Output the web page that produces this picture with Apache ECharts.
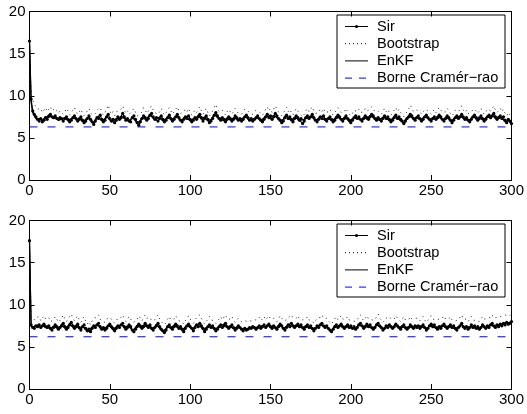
<!DOCTYPE html>
<html>
<head>
<meta charset="utf-8">
<script src="https://cdn.jsdelivr.net/npm/echarts@6/dist/echarts.min.js"></script>
<style>
  html, body { margin: 0; padding: 0; background: #fff; }
  #chart { width: 527px; height: 414px; }
</style>
</head>
<body>
<div id="chart"></div>
<script>
// Axis ticks
const xTicks = [0, 50, 100, 150, 200, 250, 300];
const yTicks = [0, 5, 10, 15, 20];
const seriesNames = ['Sir', 'Bootstrap', 'EnKF', 'Borne Cramér\u2212rao'];

// Upper panel: error per time step (index = time step 0..300)
const sirTop = [16.5,
  9.6, 8.2, 7.8, 7.5, 7.2, 7.0, 7.3, 6.9, 7.1, 7.4,
  7.2, 7.6, 7.8, 7.5, 7.4, 7.6, 7.3, 7.2, 7.4, 7.3,
  7.0, 7.3, 7.5, 7.2, 6.9, 7.1, 7.4, 7.6, 7.3, 7.0,
  7.2, 7.5, 7.1, 6.8, 7.0, 7.3, 7.6, 7.2, 6.9, 6.6,
  7.0, 7.4, 7.3, 7.7, 7.2, 6.9, 7.1, 7.5, 7.8, 7.3,
  7.0, 7.2, 6.8, 7.1, 7.5, 7.2, 7.4, 7.9, 7.5, 7.1,
  7.3, 7.0, 6.9, 7.4, 7.6, 7.2, 6.8, 6.5, 6.9, 7.3,
  7.6, 7.4, 7.1, 7.3, 7.7, 7.9, 7.5, 7.2, 7.4, 7.0,
  7.3, 7.6, 7.2, 6.9, 7.1, 7.4, 7.7, 7.3, 7.0, 7.2,
  7.5, 7.8, 7.4, 7.1, 6.9, 7.2, 7.5, 7.3, 7.6, 7.2,
  6.9, 7.1, 7.4, 7.2, 7.5, 7.8, 7.4, 7.0, 7.3, 7.6,
  7.2, 6.8, 7.0, 7.3, 7.7, 8.0, 7.6, 7.3, 7.1, 7.4,
  7.2, 6.9, 7.2, 7.5, 7.3, 7.0, 7.2, 7.6, 7.4, 7.1,
  7.3, 7.0, 7.2, 7.5, 7.7, 7.4, 7.1, 7.3, 7.0, 7.2,
  7.4, 7.6, 7.3, 7.1, 6.9, 7.2, 7.5, 7.8, 7.4, 7.6,
  7.2, 7.5, 7.9, 7.6, 7.3, 7.1, 6.8, 7.0, 7.4, 7.7,
  7.3, 7.5, 7.2, 6.9, 7.3, 7.6, 7.4, 7.1, 7.3, 6.7,
  7.0, 7.4, 7.6, 7.3, 7.5, 7.8, 7.4, 7.1, 6.9, 7.2,
  7.5, 7.3, 7.6, 7.2, 7.0, 7.3, 7.5, 7.2, 6.9, 7.1,
  7.4, 7.7, 7.5, 7.2, 7.0, 7.3, 7.6, 7.3, 7.1, 6.8,
  7.1, 7.4, 7.6, 7.3, 7.5, 7.2, 7.0, 7.3, 7.6, 7.4,
  7.2, 7.5, 7.8, 7.6, 7.3, 7.1, 7.4, 7.2, 7.0, 7.3,
  7.6, 7.3, 7.5, 7.2, 6.9, 7.1, 7.4, 7.7, 7.3, 7.5,
  7.2, 7.0, 6.7, 7.0, 7.3, 7.5, 7.8, 7.6, 7.3, 7.1,
  7.4, 7.6, 7.3, 7.0, 7.2, 7.5, 7.7, 7.4, 7.2, 7.0,
  7.3, 7.5, 7.2, 7.4, 7.7, 7.5, 7.2, 7.0, 7.3, 7.6,
  7.4, 7.1, 6.8, 7.1, 7.4, 7.6, 7.3, 7.5, 7.8, 7.5,
  7.2, 7.4, 7.1, 6.9, 7.2, 7.5, 7.7, 7.4, 7.1, 7.3,
  7.6, 7.3, 7.0, 7.2, 7.5, 7.7, 7.4, 7.6, 7.9, 7.5,
  7.2, 7.4, 7.6, 7.3, 7.5, 7.1, 6.8, 7.2, 7.0, 6.7];

const bootstrapTop = [16.5,
  10.4, 9.5, 9.0, 8.7, 8.4, 8.2, 8.5, 8.0, 8.3, 8.6,
  8.1, 8.4, 8.7, 8.2, 8.0, 8.5, 8.3, 7.9, 8.2, 8.4,
  7.8, 8.1, 8.5, 8.2, 7.7, 8.0, 8.3, 8.6, 8.1, 7.8,
  8.0, 8.4, 7.9, 7.6, 7.9, 8.2, 8.5, 8.0, 7.7, 7.5,
  7.9, 8.3, 8.1, 8.6, 8.0, 7.7, 8.0, 8.4, 8.9, 8.2,
  7.8, 8.1, 7.6, 8.0, 8.3, 8.1, 8.4, 8.8, 8.3, 7.9,
  8.2, 7.8, 7.7, 8.2, 8.5, 8.0, 7.6, 7.4, 7.8, 8.1,
  8.6, 8.3, 7.9, 8.2, 8.5, 8.8, 8.3, 8.0, 8.2, 7.8,
  8.1, 8.5, 8.0, 7.7, 7.9, 8.3, 8.6, 8.2, 7.8, 8.0,
  8.4, 8.7, 8.2, 7.9, 7.7, 8.1, 8.4, 8.1, 8.5, 8.0,
  7.7, 7.9, 8.3, 8.0, 8.4, 8.7, 8.2, 7.8, 8.1, 8.5,
  8.0, 7.6, 7.9, 8.2, 8.6, 9.0, 8.4, 8.1, 7.9, 8.3,
  8.0, 7.7, 8.1, 8.4, 8.2, 7.8, 8.0, 8.5, 8.3, 7.9,
  8.1, 7.8, 8.0, 8.4, 8.6, 8.2, 7.9, 8.1, 7.8, 8.0,
  8.3, 8.5, 8.1, 7.9, 7.7, 8.0, 8.4, 8.7, 8.2, 8.5,
  8.0, 8.4, 8.8, 8.4, 8.1, 7.9, 7.6, 7.8, 8.3, 8.6,
  8.1, 8.4, 8.0, 7.7, 8.1, 8.5, 8.2, 7.9, 8.1, 7.5,
  7.8, 8.2, 8.5, 8.1, 8.4, 8.7, 8.2, 7.9, 7.7, 8.0,
  8.4, 8.1, 8.5, 8.0, 7.8, 8.1, 8.4, 8.0, 7.7, 7.9,
  8.3, 8.6, 8.3, 8.0, 7.8, 8.1, 8.5, 8.1, 7.9, 7.6,
  7.9, 8.3, 8.5, 8.1, 8.4, 8.0, 7.8, 8.1, 8.5, 8.2,
  8.0, 8.4, 8.7, 8.5, 8.1, 7.9, 8.2, 8.0, 7.8, 8.1,
  8.5, 8.1, 8.4, 8.0, 7.7, 7.9, 8.3, 8.6, 8.1, 8.4,
  8.0, 7.8, 7.5, 7.8, 8.1, 8.4, 8.9, 8.5, 8.1, 7.9,
  8.3, 8.5, 8.1, 7.8, 8.0, 8.4, 8.6, 8.2, 8.0, 7.8,
  8.1, 8.4, 8.0, 8.3, 8.6, 8.4, 8.0, 7.8, 8.1, 8.5,
  8.2, 7.9, 7.6, 7.9, 8.3, 8.5, 8.1, 8.4, 8.8, 8.3,
  8.0, 8.3, 7.9, 7.7, 8.0, 8.4, 8.6, 8.2, 7.9, 8.1,
  8.5, 8.1, 7.8, 8.0, 8.4, 8.6, 8.2, 8.5, 8.8, 8.3,
  8.0, 8.2, 8.5, 8.1, 8.4, 7.9, 7.6, 8.0, 7.8, 7.5];

const enkfTop = [16.4,
  9.2, 8.0, 7.6, 7.3, 7.1, 7.2, 7.0, 7.1, 7.3, 7.5,
  7.3, 7.4, 7.7, 7.6, 7.3, 7.5, 7.4, 7.1, 7.3, 7.2,
  7.1, 7.4, 7.3, 7.0, 7.0, 7.3, 7.5, 7.4, 7.1, 7.1,
  7.4, 7.3, 6.9, 6.9, 7.2, 7.4, 7.5, 7.0, 6.8, 6.8,
  7.2, 7.3, 7.5, 7.5, 7.0, 7.0, 7.3, 7.6, 7.6, 7.1,
  7.1, 7.0, 6.9, 7.3, 7.4, 7.3, 7.6, 7.7, 7.3, 7.2,
  7.1, 6.9, 7.1, 7.5, 7.4, 7.0, 6.7, 6.7, 7.1, 7.4,
  7.5, 7.2, 7.2, 7.5, 7.8, 7.6, 7.3, 7.3, 7.2, 7.1,
  7.5, 7.4, 7.0, 7.0, 7.3, 7.5, 7.5, 7.1, 7.1, 7.4,
  7.6, 7.6, 7.2, 7.0, 7.0, 7.4, 7.3, 7.4, 7.5, 7.0,
  7.0, 7.3, 7.3, 7.3, 7.7, 7.6, 7.2, 7.1, 7.5, 7.4,
  7.0, 6.9, 7.2, 7.4, 7.8, 7.8, 7.4, 7.2, 7.2, 7.3,
  7.0, 7.0, 7.4, 7.4, 7.1, 7.1, 7.4, 7.5, 7.2, 7.2,
  7.1, 7.1, 7.4, 7.6, 7.5, 7.2, 7.2, 7.1, 7.1, 7.3,
  7.5, 7.4, 7.2, 7.0, 7.0, 7.4, 7.6, 7.6, 7.5, 7.4,
  7.3, 7.7, 7.7, 7.4, 7.2, 7.0, 6.9, 7.2, 7.6, 7.5,
  7.4, 7.3, 7.0, 7.1, 7.5, 7.5, 7.2, 7.2, 7.1, 6.9,
  7.2, 7.5, 7.4, 7.4, 7.6, 7.6, 7.2, 7.0, 7.1, 7.4,
  7.4, 7.4, 7.4, 7.1, 7.1, 7.4, 7.3, 7.0, 7.0, 7.3,
  7.6, 7.5, 7.3, 7.1, 7.2, 7.5, 7.4, 7.2, 6.9, 6.9,
  7.3, 7.5, 7.4, 7.4, 7.3, 7.1, 7.1, 7.5, 7.5, 7.2,
  7.3, 7.7, 7.6, 7.4, 7.2, 7.2, 7.3, 7.1, 7.1, 7.5,
  7.4, 7.4, 7.3, 7.0, 7.0, 7.3, 7.6, 7.5, 7.4, 7.3,
  7.0, 6.9, 6.8, 7.2, 7.4, 7.6, 7.6, 7.4, 7.2, 7.2,
  7.5, 7.4, 7.1, 7.1, 7.4, 7.6, 7.5, 7.3, 7.1, 7.1,
  7.4, 7.3, 7.3, 7.6, 7.6, 7.3, 7.1, 7.1, 7.5, 7.5,
  7.2, 7.0, 6.9, 7.3, 7.5, 7.4, 7.4, 7.6, 7.6, 7.3,
  7.3, 7.2, 7.0, 7.0, 7.4, 7.6, 7.5, 7.2, 7.2, 7.5,
  7.4, 7.1, 7.1, 7.4, 7.6, 7.5, 7.5, 7.7, 7.7, 7.3,
  7.3, 7.5, 7.4, 7.4, 7.3, 6.9, 6.9, 7.1, 6.9, 6.6];

const cramerRaoTop = 6.3;

// Lower panel
const sirBottom = [17.6,
  7.6, 7.3, 7.2, 7.5, 7.4, 7.6, 7.3, 7.5, 7.7, 7.4,
  7.3, 7.5, 7.2, 7.0, 7.3, 7.6, 7.4, 7.1, 7.3, 7.5,
  7.8, 7.4, 7.1, 7.3, 7.6, 7.9, 7.5, 7.2, 7.4, 7.7,
  7.3, 7.0, 7.4, 7.6, 7.2, 6.9, 7.1, 6.8, 7.2, 7.5,
  7.3, 7.6, 7.8, 7.4, 7.1, 7.3, 7.0, 7.2, 7.5, 7.7,
  7.4, 7.2, 6.9, 7.2, 7.5, 7.3, 7.6, 7.8, 7.4, 7.1,
  7.3, 7.6, 7.4, 7.0, 6.8, 7.1, 7.4, 7.7, 7.5, 7.2,
  7.4, 7.8, 7.5, 7.3, 7.6, 7.2, 7.0, 7.3, 7.5, 7.8,
  7.4, 7.1, 6.9, 6.7, 7.0, 7.4, 7.6, 7.3, 7.1, 7.4,
  7.7, 7.5, 7.2, 7.4, 7.1, 6.8, 7.2, 7.5, 7.7, 7.4,
  7.2, 6.9, 7.3, 7.6, 7.4, 7.8, 7.5, 7.2, 6.8, 7.1,
  7.4, 7.6, 7.3, 7.5, 7.2, 6.9, 7.1, 7.4, 7.6, 7.3,
  7.5, 7.8, 7.4, 7.2, 7.4, 7.6, 7.3, 7.0, 7.2, 7.5,
  7.3, 7.1, 6.9, 7.2, 7.0, 7.1, 7.3, 7.2, 7.4, 7.3,
  7.1, 7.3, 7.5, 7.2, 7.4, 7.6, 7.3, 7.5, 7.7, 7.4,
  7.2, 7.5, 7.3, 7.1, 7.4, 7.7, 7.5, 7.2, 7.0, 7.3,
  7.6, 7.4, 7.8, 7.5, 7.3, 7.5, 7.7, 7.4, 7.6, 7.3,
  7.1, 7.4, 7.6, 7.3, 7.5, 7.2, 6.9, 7.2, 7.5, 7.3,
  7.6, 7.8, 7.5, 7.3, 7.5, 7.2, 7.0, 6.8, 7.1, 7.4,
  7.6, 7.3, 7.5, 7.7, 7.4, 7.2, 7.4, 7.6, 7.3, 7.5,
  7.2, 7.4, 7.1, 7.3, 7.6, 7.8, 7.5, 7.2, 7.4, 7.7,
  7.4, 7.6, 7.3, 7.1, 7.3, 7.6, 7.8, 7.5, 7.3, 7.0,
  7.2, 7.5, 7.3, 7.6, 7.4, 7.2, 7.4, 7.7, 7.5, 7.3,
  7.1, 7.4, 7.6, 7.3, 7.1, 7.3, 7.6, 7.4, 7.2, 7.5,
  7.3, 7.5, 7.2, 7.4, 7.6, 7.3, 7.0, 7.2, 7.5, 7.7,
  7.4, 7.6, 7.3, 7.1, 7.4, 7.2, 7.5, 7.7, 7.4, 7.2,
  7.4, 7.6, 7.3, 7.5, 7.2, 7.0, 7.3, 7.5, 7.8, 7.4,
  7.2, 7.4, 7.1, 7.3, 7.6, 7.3, 7.5, 7.2, 7.4, 7.1,
  7.3, 7.6, 7.4, 7.2, 7.5, 7.3, 7.6, 7.8, 7.5, 7.3,
  7.6, 7.4, 7.7, 7.5, 7.8, 7.6, 7.9, 7.7, 7.8, 8.0];

const bootstrapBottom = [17.6,
  8.6, 8.4, 8.2, 8.5, 8.3, 8.6, 8.1, 8.4, 8.7, 8.3,
  8.2, 8.5, 8.0, 7.8, 8.2, 8.6, 8.3, 7.9, 8.1, 8.4,
  8.8, 8.3, 8.0, 8.2, 8.6, 8.9, 8.4, 8.1, 8.3, 8.7,
  8.2, 7.9, 8.3, 8.6, 8.0, 7.7, 8.0, 7.6, 8.1, 8.4,
  8.2, 8.5, 8.8, 8.3, 8.0, 8.2, 7.9, 8.1, 8.5, 8.7,
  8.3, 8.1, 7.8, 8.1, 8.4, 8.2, 8.5, 8.8, 8.3, 8.0,
  8.2, 8.6, 8.3, 7.9, 7.7, 8.0, 8.3, 8.7, 8.4, 8.1,
  8.3, 8.8, 8.4, 8.2, 8.5, 8.1, 7.9, 8.2, 8.4, 8.8,
  8.3, 8.0, 7.8, 7.6, 7.9, 8.3, 8.6, 8.2, 8.0, 8.3,
  8.7, 8.4, 8.1, 8.3, 8.0, 7.7, 8.1, 8.4, 8.7, 8.3,
  8.1, 7.8, 8.2, 8.5, 8.3, 8.8, 8.4, 8.1, 7.7, 8.0,
  8.3, 8.6, 8.2, 8.4, 8.1, 7.8, 8.0, 8.3, 8.6, 8.2,
  8.4, 8.8, 8.3, 8.1, 8.3, 8.6, 8.2, 7.9, 8.1, 8.4,
  8.2, 8.0, 7.8, 8.1, 7.9, 8.0, 8.2, 8.1, 8.3, 8.2,
  8.0, 8.2, 8.5, 8.1, 8.3, 8.6, 8.2, 8.4, 8.7, 8.3,
  8.1, 8.4, 8.2, 8.0, 8.3, 8.7, 8.4, 8.1, 7.9, 8.2,
  8.5, 8.3, 8.8, 8.4, 8.2, 8.4, 8.7, 8.3, 8.5, 8.2,
  8.0, 8.3, 8.6, 8.2, 8.4, 8.1, 7.8, 8.1, 8.4, 8.2,
  8.5, 8.8, 8.4, 8.2, 8.4, 8.1, 7.9, 7.7, 8.0, 8.3,
  8.6, 8.2, 8.4, 8.7, 8.3, 8.1, 8.3, 8.6, 8.2, 8.4,
  8.1, 8.3, 8.0, 8.2, 8.5, 8.8, 8.4, 8.1, 8.3, 8.7,
  8.3, 8.5, 8.2, 8.0, 8.2, 8.6, 8.9, 8.4, 8.2, 7.9,
  8.1, 8.4, 8.2, 8.6, 8.3, 8.1, 8.3, 8.7, 8.4, 8.2,
  8.0, 8.3, 8.6, 8.2, 8.0, 8.2, 8.6, 8.3, 8.1, 8.4,
  8.2, 8.4, 8.1, 8.3, 8.6, 8.2, 7.9, 8.1, 8.4, 8.7,
  8.3, 8.5, 8.2, 8.0, 8.3, 8.1, 8.4, 8.7, 8.3, 8.1,
  8.3, 8.6, 8.2, 8.4, 8.1, 7.9, 8.2, 8.4, 8.8, 8.3,
  8.1, 8.3, 8.0, 8.2, 8.6, 8.2, 8.4, 8.1, 8.3, 8.0,
  8.2, 8.6, 8.3, 8.1, 8.4, 8.2, 8.5, 8.8, 8.4, 8.2,
  8.5, 8.3, 8.6, 8.4, 8.7, 8.5, 8.8, 8.6, 8.7, 8.9];

const enkfBottom = [17.5,
  7.4, 7.2, 7.4, 7.4, 7.6, 7.5, 7.4, 7.6, 7.5, 7.3,
  7.4, 7.3, 7.1, 7.2, 7.5, 7.5, 7.2, 7.2, 7.4, 7.7,
  7.6, 7.2, 7.2, 7.5, 7.8, 7.7, 7.3, 7.3, 7.6, 7.5,
  7.1, 7.2, 7.5, 7.4, 7.0, 7.0, 6.9, 7.0, 7.4, 7.4,
  7.5, 7.7, 7.6, 7.2, 7.2, 7.1, 7.1, 7.4, 7.6, 7.5,
  7.3, 7.0, 7.0, 7.4, 7.4, 7.5, 7.7, 7.6, 7.2, 7.2,
  7.5, 7.5, 7.2, 6.9, 6.9, 7.3, 7.6, 7.6, 7.3, 7.3,
  7.6, 7.7, 7.4, 7.5, 7.4, 7.1, 7.1, 7.4, 7.7, 7.6,
  7.2, 7.0, 6.8, 6.8, 7.2, 7.5, 7.5, 7.2, 7.2, 7.6,
  7.6, 7.3, 7.3, 7.3, 6.9, 7.0, 7.4, 7.6, 7.6, 7.3,
  7.1, 7.1, 7.5, 7.5, 7.6, 7.7, 7.3, 7.0, 6.9, 7.3,
  7.5, 7.5, 7.4, 7.4, 7.0, 7.0, 7.3, 7.5, 7.5, 7.4,
  7.7, 7.6, 7.3, 7.3, 7.5, 7.5, 7.1, 7.1, 7.4, 7.4,
  7.2, 7.0, 7.0, 7.1, 7.1, 7.2, 7.2, 7.3, 7.4, 7.2,
  7.2, 7.4, 7.4, 7.3, 7.5, 7.5, 7.4, 7.6, 7.6, 7.3,
  7.3, 7.4, 7.2, 7.2, 7.6, 7.6, 7.4, 7.1, 7.1, 7.5,
  7.5, 7.6, 7.7, 7.4, 7.4, 7.6, 7.6, 7.5, 7.5, 7.2,
  7.2, 7.5, 7.5, 7.4, 7.4, 7.1, 7.0, 7.3, 7.4, 7.4,
  7.7, 7.7, 7.4, 7.4, 7.4, 7.1, 6.9, 6.9, 7.2, 7.5,
  7.5, 7.4, 7.6, 7.6, 7.3, 7.3, 7.5, 7.5, 7.4, 7.4,
  7.3, 7.3, 7.2, 7.4, 7.7, 7.7, 7.4, 7.3, 7.5, 7.6,
  7.5, 7.5, 7.2, 7.2, 7.4, 7.7, 7.7, 7.4, 7.2, 7.1,
  7.3, 7.4, 7.4, 7.5, 7.3, 7.3, 7.5, 7.6, 7.4, 7.2,
  7.2, 7.5, 7.5, 7.2, 7.2, 7.4, 7.5, 7.3, 7.3, 7.4,
  7.4, 7.4, 7.3, 7.5, 7.5, 7.2, 7.1, 7.3, 7.6, 7.6,
  7.5, 7.5, 7.2, 7.2, 7.3, 7.3, 7.6, 7.6, 7.3, 7.3,
  7.5, 7.5, 7.4, 7.4, 7.1, 7.1, 7.4, 7.6, 7.7, 7.3,
  7.3, 7.3, 7.2, 7.4, 7.5, 7.4, 7.4, 7.3, 7.3, 7.2,
  7.4, 7.5, 7.3, 7.3, 7.4, 7.4, 7.7, 7.7, 7.4, 7.4,
  7.5, 7.5, 7.6, 7.6, 7.7, 7.7, 7.8, 7.8, 7.9, 7.9];

const cramerRaoBottom = 6.2;

const FONT = '"Liberation Sans", Arial, Helvetica, sans-serif';
const chart = echarts.init(document.getElementById('chart'), null, { renderer: 'canvas' });

const PLOT_LEFT = 29.5, PLOT_WIDTH = 483;
const panels = [
  { top: 11.5, height: 168.5, sir: sirTop, boot: bootstrapTop, enkf: enkfTop, crb: cramerRaoTop },
  { top: 220.5, height: 168.5, sir: sirBottom, boot: bootstrapBottom, enkf: enkfBottom, crb: cramerRaoBottom }
];

const toPairs = arr => arr.map((v, i) => [i, v]);
const xMin = xTicks[0], xMax = xTicks[xTicks.length - 1];
const yMin = yTicks[0], yMax = yTicks[yTicks.length - 1];

const grid = [], xAxis = [], yAxis = [], series = [], graphic = [];

panels.forEach((p, k) => {
  grid.push({ left: PLOT_LEFT, width: PLOT_WIDTH, top: p.top, height: p.height, containLabel: false });
  const axisCommon = {
    gridIndex: k, type: 'value',
    axisLine: { show: true, onZero: false, lineStyle: { color: '#000', width: 1 } },
    axisTick: { show: true, inside: true, length: 5, lineStyle: { color: '#000', width: 1 } },
    splitLine: { show: false },
    axisLabel: { color: '#000', fontSize: 15, fontFamily: FONT, showMinLabel: true, showMaxLabel: true }
  };
  xAxis.push(Object.assign({}, axisCommon, {
    position: 'bottom', min: xMin, max: xMax, interval: 50,
    axisLabel: Object.assign({}, axisCommon.axisLabel, { margin: 3 })
  }));
  xAxis.push(Object.assign({}, axisCommon, {
    position: 'top', min: xMin, max: xMax, interval: 50, axisLabel: { show: false }
  }));
  yAxis.push(Object.assign({}, axisCommon, {
    position: 'left', min: yMin, max: yMax, interval: 5,
    axisLabel: Object.assign({}, axisCommon.axisLabel, { margin: 4 })
  }));
  yAxis.push(Object.assign({}, axisCommon, {
    position: 'right', min: yMin, max: yMax, interval: 5, axisLabel: { show: false }
  }));

  const base = { type: 'line', xAxisIndex: 2 * k, yAxisIndex: 2 * k, animation: false, silent: true,
                 emphasis: { disabled: true }, clip: true };
  series.push(Object.assign({}, base, {
    name: seriesNames[0], data: toPairs(p.sir),
    symbol: 'circle', symbolSize: 3.2, showSymbol: true, showAllSymbol: true,
    itemStyle: { color: '#000' }, lineStyle: { color: '#000', width: 1.2 }, z: 2
  }));
  series.push(Object.assign({}, base, {
    name: seriesNames[1], data: toPairs(p.boot), symbol: 'none',
    lineStyle: { color: '#222', width: 1, type: [1, 4] }, z: 3
  }));
  series.push(Object.assign({}, base, {
    name: seriesNames[2], data: toPairs(p.enkf), symbol: 'none',
    lineStyle: { color: '#000', width: 1.2 }, z: 4
  }));
  series.push(Object.assign({}, base, {
    name: seriesNames[3], data: [[xMin, p.crb], [xMax, p.crb]], symbol: 'none',
    lineStyle: { color: '#0000ff', width: 1, type: [8, 10] }, z: 5
  }));

  // Boxed legend in the upper-right corner of each panel
  const lx = 337, ly = p.top + 3.5, lw = 168, lh = 73, rowGap = 17.2, row0 = 11.5;
  const sx0 = 8, sx1 = 31, tx = 40;
  const children = [
    { type: 'rect', shape: { x: 0, y: 0, width: lw, height: lh },
      style: { fill: '#fff', stroke: '#000', lineWidth: 1 } }
  ];
  const sampleStyles = [
    { stroke: '#000', lineWidth: 1 },
    { stroke: '#000', lineWidth: 1, lineDash: [1, 3] },
    { stroke: '#000', lineWidth: 1 },
    { stroke: '#0000ff', lineWidth: 1, lineDash: [7, 7] }
  ];
  seriesNames.forEach((name, i) => {
    const y = row0 + i * rowGap;
    children.push({ type: 'line', shape: { x1: sx0, y1: y, x2: sx1, y2: y }, style: sampleStyles[i] });
    if (i === 0) {
      children.push({ type: 'circle', shape: { cx: (sx0 + sx1) / 2, cy: y, r: 1.6 }, style: { fill: '#000' } });
    }
    children.push({ type: 'text', x: tx, y: y,
      style: { text: name, fill: '#000', fontSize: 14.6, fontFamily: FONT, verticalAlign: 'middle', align: 'left' } });
  });
  graphic.push({ type: 'group', x: lx, y: ly, z: 100, children });
});

chart.setOption({
  backgroundColor: '#fff',
  animation: false,
  grid, xAxis, yAxis, series, graphic
});
</script>
</body>
</html>
